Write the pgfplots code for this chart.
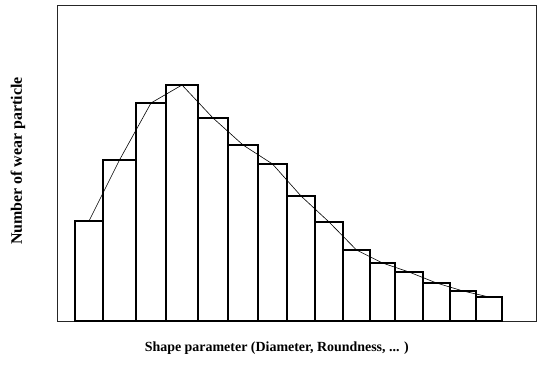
\documentclass[border=0pt]{standalone}
\usepackage{pgfplots}
\usepackage{pgfplotstable}
\pgfplotsset{compat=1.18}
\usepackage{fontspec}
\setmainfont{Liberation Serif}

% histogram: left edge of each class and its count (last row closes the interval)
\pgfplotstableread{
edge count
75  100
103 161
136 218
166 236
198 203
228 176
258 157
287 125
315 99
343 71
370 58
395 49
423 38
450 30
476 24
502 24
}\histdata

% fitted distribution through the class centres
\pgfplotstableread{
mid count
89    100
119.5 161
151   218
182   236
213   203
243   176
272.5 157
301   125
329   99
356.5 71
382.5 58
409   49
436.5 38
463   30
489   24
}\curvedata

\begin{document}
\begin{tikzpicture}
\begin{axis}[
    at={(57bp,53bp)}, anchor=south west,
    scale only axis,
    width=479bp, height=316bp,
    xmin=57, xmax=536, ymin=0, ymax=316,
    xtick=\empty, ytick=\empty,
    axis line style={line width=0.9pt, black!85},
    xlabel={\fontsize{14}{16}\selectfont\bfseries Shape parameter (Diameter, Roundness, ... )},
    ylabel={\fontsize{16}{18}\selectfont\bfseries Number of wear particle},
    xlabel style={at={(axis description cs:0.459,0)}, anchor=north, inner sep=0pt, yshift=-21bp},
    ylabel style={at={(axis description cs:0,0.506)}, anchor=center, inner sep=0pt, yshift=39bp},
]
\addplot[ybar interval, fill=white, draw=black, line width=1.1pt] table[x=edge, y=count] {\histdata};
\addplot[sharp plot, black, line width=0.6pt, mark=none] table[x=mid, y=count] {\curvedata};
\end{axis}
\pgfresetboundingbox
\path[use as bounding box] (0,0) rectangle (538bp,374bp);
\end{tikzpicture}
\end{document}
